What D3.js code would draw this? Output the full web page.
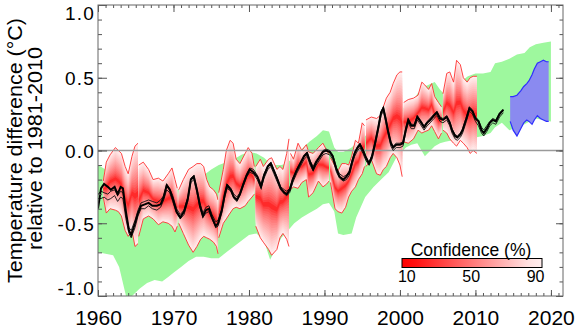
<!DOCTYPE html>
<html><head><meta charset="utf-8">
<script src="https://cdn.jsdelivr.net/npm/d3@7"></script>
<style>
body{margin:0;background:#fff}
svg{display:block}
text{font-family:"Liberation Sans",Arial,Helvetica,sans-serif;fill:#000}
</style>
</head><body>
<svg id="chart" width="575" height="330"></svg>
<script>
// ---------------- DATA ----------------
// Green band (uninitialised model spread): [year, lower, upper]
const greenBand = [
[1960.0,-0.70,-0.10],[1961.0,-0.71,-0.13],[1962.0,-0.72,-0.17],[1962.8,-0.80,-0.20],
[1963.8,-1.02,-0.22],[1964.5,-1.00,-0.24],[1965.5,-0.95,-0.26],[1966.5,-0.91,-0.27],
[1967.5,-0.89,-0.28],[1968.5,-0.90,-0.29],[1969.3,-0.87,-0.29],[1970.0,-0.84,-0.28],
[1971.0,-0.80,-0.26],[1972.0,-0.76,-0.24],[1973.0,-0.73,-0.21],[1974.0,-0.73,-0.17],
[1975.0,-0.74,-0.13],[1976.0,-0.74,-0.10],[1977.0,-0.70,-0.08],[1978.0,-0.66,-0.06],
[1979.0,-0.62,-0.03],[1980.0,-0.58,-0.01],[1981.0,-0.57,-0.02],[1982.0,-0.62,-0.05],
[1982.8,-0.75,-0.09],[1983.5,-0.68,-0.10],[1984.3,-0.60,-0.10],[1985.0,-0.56,-0.09],
[1986.0,-0.50,-0.04],[1987.0,-0.46,0.01],[1988.0,-0.43,0.06],[1989.0,-0.40,0.10],
[1989.8,-0.37,0.14],[1990.6,-0.36,0.13],[1991.3,-0.42,0.02],[1991.8,-0.57,-0.01],
[1992.5,-0.58,-0.01],[1993.6,-0.57,0.02],[1994.2,-0.46,0.05],[1995.4,-0.32,0.10],
[1996.5,-0.25,0.14],[1997.5,-0.20,0.19],[1998.5,-0.15,0.23],[1999.5,-0.05,0.27],
[2000.8,0.02,0.30],[2001.5,0.04,0.31],[2002.3,0.05,0.39],[2003.3,-0.04,0.44],
[2004.6,0.03,0.47],[2005.3,0.05,0.42],[2006.0,0.06,0.38],[2007.0,0.07,0.43],
[2008.0,0.08,0.47],[2009.0,0.09,0.51],[2010.0,0.09,0.53],[2011.0,0.10,0.53],
[2012.0,0.12,0.54],[2012.6,0.16,0.60],[2013.5,0.19,0.61],[2014.5,0.14,0.63],
[2015.5,0.16,0.66],[2016.5,0.18,0.67],[2017.2,0.20,0.71],[2018.0,0.22,0.73],
[2019.0,0.21,0.74],[2020.0,0.20,0.75]
];

// Hindcast segments (5-95% range): [year, lower, upper]
const hc1960 = [[1960.7,-0.32,-0.21],[1961.1,-0.43,-0.08],[1961.6,-0.40,-0.03],[1962.3,-0.41,0.02],[1962.7,-0.42,0.00],[1963.1,-0.45,-0.02],[1963.6,-0.55,-0.11],[1964.0,-0.59,-0.16],[1964.5,-0.55,-0.04],[1964.9,-0.66,0.03],[1965.3,-0.64,0.05]];
const hc1965 = [[1965.4,-0.59,-0.10],[1966.0,-0.47,-0.08],[1966.7,-0.45,-0.13],[1967.3,-0.47,-0.20],[1968.0,-0.51,-0.19],[1968.6,-0.49,-0.21],[1969.3,-0.50,-0.16],[1969.8,-0.52,-0.12],[1970.2,-0.56,-0.20],[1970.5,-0.52,-0.26]];
const hc1970 = [[1970.7,-0.50,-0.27],[1971.3,-0.57,-0.20],[1972.0,-0.65,-0.13],[1972.6,-0.70,-0.11],[1973.1,-0.66,-0.09],[1973.6,-0.61,-0.09],[1974.0,-0.59,-0.11],[1974.4,-0.60,-0.20],[1974.8,-0.61,-0.25],[1975.3,-0.63,-0.27],[1975.7,-0.66,-0.30],[1975.9,-0.71,-0.34]];
const hc1975 = [[1976.0,-0.60,-0.29],[1976.6,-0.50,-0.13],[1977.0,-0.47,0.00],[1977.5,-0.43,0.07],[1977.9,-0.40,0.05],[1978.3,-0.39,-0.06],[1978.8,-0.40,-0.09],[1979.5,-0.38,-0.02],[1979.9,-0.35,0.02],[1980.4,-0.32,-0.02],[1980.7,-0.30,-0.11]];
const hc1980 = [[1980.9,-0.52,-0.11],[1981.5,-0.60,-0.06],[1981.9,-0.63,-0.11],[1982.6,-0.68,-0.06],[1983.0,-0.72,-0.05],[1983.7,-0.68,-0.13],[1984.1,-0.60,-0.11],[1984.5,-0.57,-0.13],[1985.0,-0.61,-0.02],[1985.3,-0.66,0.08]];
const hc1985 = [[1985.5,-0.27,-0.02],[1985.9,-0.25,-0.06],[1986.5,-0.26,0.05],[1987.0,-0.22,0.00],[1987.6,-0.20,0.04],[1987.9,-0.32,-0.01],[1988.5,-0.29,-0.02],[1989.2,-0.21,0.02],[1989.8,-0.25,0.05],[1990.3,-0.23,0.00],[1990.6,-0.21,-0.03]];
const hc1990 = [[1990.8,-0.22,-0.05],[1991.4,-0.40,-0.11],[1991.8,-0.42,-0.14],[1992.3,-0.43,-0.09],[1992.8,-0.39,-0.09],[1993.2,-0.32,-0.10],[1993.6,-0.28,-0.04],[1994.1,-0.25,0.07],[1994.5,-0.20,0.05],[1995.0,-0.16,0.19],[1995.3,-0.11,0.17]];
const hc1995 = [[1995.5,-0.11,0.21],[1996.2,-0.06,0.23],[1996.9,-0.16,0.22],[1997.4,-0.17,0.24],[1997.8,-0.13,0.30],[1998.2,-0.11,0.36],[1998.7,-0.05,0.40],[1999.1,-0.02,0.46],[1999.6,-0.05,0.52],[2000.0,-0.10,0.54],[2000.3,-0.18,0.54]];
const hc2000 = [[2000.5,0.06,0.33],[2001.1,0.05,0.35],[2001.8,0.08,0.36],[2002.4,0.14,0.38],[2002.9,0.12,0.47],[2003.3,0.13,0.45],[2003.8,0.14,0.42],[2004.2,0.17,0.46],[2004.6,0.13,0.37],[2005.1,0.08,0.33],[2005.5,0.12,0.30]];
const hc2005 = [[2005.7,0.14,0.39],[2006.2,0.12,0.53],[2006.6,0.08,0.54],[2007.1,0.05,0.47],[2007.5,0.03,0.62],[2008.0,0.07,0.59],[2008.4,0.05,0.50],[2008.9,0.02,0.47],[2009.3,-0.02,0.50],[2009.7,0.00,0.51],[2010.2,-0.02,0.51]];

// Forecast band: [year, lower, upper]
const forecastBand = [[2014.6,0.20,0.37],[2015.0,0.14,0.37],[2015.5,0.10,0.38],[2016.0,0.15,0.41],[2016.4,0.19,0.44],[2016.8,0.21,0.46],[2017.1,0.20,0.48],[2017.5,0.18,0.52],[2017.8,0.21,0.56],[2018.2,0.24,0.60],[2018.6,0.22,0.61],[2019.0,0.21,0.62],[2019.4,0.20,0.61],[2019.7,0.20,0.61]];

// Observations
const obsYears = [1960.0,1960.4,1960.8,1961.3,1961.7,1962.2,1962.6,1963.0,1963.3,1963.7,1964.1,1964.4,1964.9,1965.3,1965.7,1966.2,1966.7,1967.2,1967.8,1968.3,1968.7,1969.1,1969.5,1969.9,1970.4,1970.9,1971.4,1971.9,1972.3,1972.7,1973.1,1973.5,1973.9,1974.3,1974.7,1975.1,1975.6,1975.9,1976.4,1976.8,1977.1,1977.6,1978.0,1978.4,1978.8,1979.2,1979.7,1980.1,1980.6,1981.1,1981.6,1982.0,1982.5,1982.9,1983.3,1983.7,1984.2,1984.7,1985.0,1985.4,1985.8,1986.3,1986.8,1987.3,1987.7,1988.1,1988.5,1988.9,1989.3,1989.8,1990.2,1990.7,1991.1,1991.6,1992.0,1992.5,1992.9,1993.3,1993.7,1994.0,1994.4,1994.7,1995.1,1995.5,1995.9,1996.3,1996.7,1997.1,1997.5,1997.8,1998.1,1998.4,1998.8,1999.1,1999.5,2000.0,2000.4,2000.8,2001.1,2001.5,2001.9,2002.3,2002.7,2003.2,2003.6,2004.0,2004.5,2004.9,2005.3,2005.7,2006.2,2006.6,2006.9,2007.3,2007.6,2008.0,2008.3,2008.8,2009.2,2009.6,2010.0,2010.4,2010.8,2011.1,2011.5,2011.9,2012.3,2012.7,2013.2,2013.7];
const obsMain = [-0.40,-0.26,-0.23,-0.25,-0.27,-0.25,-0.30,-0.25,-0.26,-0.42,-0.55,-0.58,-0.50,-0.43,-0.38,-0.37,-0.36,-0.38,-0.38,-0.37,-0.32,-0.24,-0.27,-0.33,-0.42,-0.46,-0.42,-0.33,-0.20,-0.18,-0.27,-0.38,-0.45,-0.41,-0.40,-0.46,-0.52,-0.50,-0.41,-0.30,-0.24,-0.27,-0.32,-0.34,-0.30,-0.24,-0.17,-0.13,-0.15,-0.18,-0.25,-0.17,-0.11,-0.09,-0.14,-0.19,-0.26,-0.29,-0.30,-0.27,-0.20,-0.14,-0.09,-0.04,-0.02,-0.08,-0.13,-0.08,-0.05,-0.01,0.00,-0.01,-0.04,-0.13,-0.18,-0.20,-0.18,-0.15,-0.07,-0.02,0.02,0.04,0.00,-0.05,-0.09,-0.04,0.05,0.15,0.26,0.29,0.22,0.14,0.05,0.02,0.04,0.04,0.05,0.15,0.21,0.17,0.17,0.23,0.20,0.16,0.19,0.21,0.24,0.26,0.22,0.21,0.23,0.19,0.14,0.10,0.09,0.11,0.14,0.22,0.29,0.27,0.22,0.20,0.14,0.12,0.15,0.19,0.21,0.20,0.25,0.28];
const obsB = [-0.30,-0.28,-0.29,-0.30,-0.28,-0.27,-0.31,-0.28,-0.29,-0.44,-0.53,-0.55,-0.48,-0.41,-0.36,-0.35,-0.34,-0.35,-0.36,-0.34,-0.31,-0.23,-0.26,-0.31,-0.40,-0.44,-0.41,-0.32,-0.19,-0.17,-0.26,-0.36,-0.43,-0.39,-0.38,-0.44,-0.49,-0.48,-0.40,-0.29,-0.23,-0.26,-0.30,-0.32,-0.29,-0.23,-0.16,-0.12,-0.13,-0.17,-0.23,-0.16,-0.10,-0.08,-0.13,-0.18,-0.25,-0.27,-0.28,-0.26,-0.19,-0.13,-0.08,-0.03,-0.01,-0.07,-0.11,-0.07,-0.04,0.00,0.01,0.00,-0.03,-0.12,-0.16,-0.18,-0.17,-0.14,-0.06,-0.01,0.03,0.05,0.01,-0.04,-0.08,-0.03,0.06,0.16,0.27,0.30,0.23,0.15,0.06,0.03,0.05,0.05,0.06,0.16,0.22,0.18,0.18,0.24,0.21,0.17,0.20,0.22,0.25,0.27,0.23,0.22,0.24,0.20,0.15,0.11,0.10,0.12,0.15,0.23,0.30,0.28,0.23,0.21,0.16,0.14,0.17,0.20,0.22,0.21,0.26,0.28];
const obsC = [-0.33,-0.33,-0.32,-0.34,-0.33,-0.31,-0.35,-0.32,-0.33,-0.47,-0.57,-0.60,-0.53,-0.45,-0.40,-0.40,-0.38,-0.40,-0.41,-0.39,-0.34,-0.27,-0.29,-0.35,-0.43,-0.47,-0.44,-0.35,-0.22,-0.20,-0.29,-0.39,-0.46,-0.43,-0.42,-0.47,-0.53,-0.52,-0.43,-0.32,-0.26,-0.28,-0.33,-0.35,-0.31,-0.25,-0.18,-0.15,-0.16,-0.20,-0.26,-0.19,-0.13,-0.11,-0.16,-0.21,-0.27,-0.30,-0.31,-0.29,-0.22,-0.16,-0.11,-0.06,-0.04,-0.10,-0.14,-0.10,-0.07,-0.03,-0.02,-0.03,-0.06,-0.15,-0.19,-0.21,-0.20,-0.17,-0.09,-0.04,0.00,0.02,-0.02,-0.07,-0.10,-0.06,0.03,0.13,0.24,0.27,0.20,0.12,0.03,0.00,0.02,0.02,0.03,0.13,0.19,0.15,0.15,0.21,0.18,0.14,0.17,0.19,0.22,0.24,0.20,0.19,0.21,0.17,0.12,0.08,0.07,0.09,0.12,0.20,0.27,0.25,0.20,0.17,0.12,0.10,0.13,0.17,0.19,0.18,0.23,0.26];

// Axis ticks and legend
const xMajorTicks = [1960,1970,1980,1990,2000,2010,2020];
const yMajorTicks = [-1.0,-0.5,0.0,0.5,1.0];
const confidenceTicks = [10,50,90];
const yTitle = ["Temperature difference (°C)","relative to 1981-2010"];
const legendTitle = "Confidence (%)";

// ---------------- DRAW ----------------
const svg = d3.select("#chart");
const L=98, R=563, T=5, B=296;
const x = d3.scaleLinear().domain([1960,2021.6]).range([L,R]);
const y = d3.scaleLinear().domain([-1,1]).range([B,T]);

svg.append("defs").append("clipPath").attr("id","clip")
  .append("rect").attr("x",L).attr("y",T).attr("width",R-L).attr("height",B-T);
const plot = svg.append("g").attr("clip-path","url(#clip)");

const band = (lo, hi) => d3.area().x(d=>x(d[0])).y0(lo).y1(hi);

// green band
plot.append("path")
  .attr("d", band(d=>y(d[1]), d=>y(d[2]))(greenBand))
  .attr("fill","#9ef89e");

// confidence colour scale (10% = red centre, 90% = pale edge)
const conf = d3.scaleLinear().domain([10,90]).range(["#ff0000","#ffeeee"]).interpolate(d3.interpolateRgb);

const segments = [hc1960,hc1965,hc1970,hc1975,hc1980,hc1985,hc1990,hc1995,hc2000,hc2005];
const N = 18;
segments.forEach(seg => {
  for (let i=0;i<N;i++){
    const f = 1 - i/N;                 // fraction of half-width
    const c = 10 + 80*Math.pow(f,0.6); // confidence level at this fraction
    const a = d3.area().x(d=>x(d[0]))
      .y0(d=>{const m=(d[1]+d[2])/2; return y(m - f*(m-d[1]));})
      .y1(d=>{const m=(d[1]+d[2])/2; return y(m + f*(d[2]-m));});
    plot.append("path").attr("d",a(seg)).attr("fill",conf(c));
  }
  const lu = d3.line().x(d=>x(d[0])).y(d=>y(d[2]));
  const ll = d3.line().x(d=>x(d[0])).y(d=>y(d[1]));
  plot.append("path").attr("d",lu(seg)).attr("fill","none").attr("stroke","#ff3030").attr("stroke-width",0.9);
  plot.append("path").attr("d",ll(seg)).attr("fill","none").attr("stroke","#ff3030").attr("stroke-width",0.9);
});

// forecast band
plot.append("path").attr("d", band(d=>y(d[1]), d=>y(d[2]))(forecastBand)).attr("fill","#8a8af0");
plot.append("path").attr("d", d3.line().x(d=>x(d[0])).y(d=>y(d[2]))(forecastBand)).attr("fill","none").attr("stroke","#2f2fff").attr("stroke-width",1.2);
plot.append("path").attr("d", d3.line().x(d=>x(d[0])).y(d=>y(d[1]))(forecastBand)).attr("fill","none").attr("stroke","#2f2fff").attr("stroke-width",1.2);

// zero line
plot.append("line").attr("x1",L).attr("x2",R).attr("y1",y(0)).attr("y2",y(0))
  .attr("stroke","#9a9a9a").attr("stroke-width",1.6);

// observations
const obsLine = vals => d3.line().x((d,i)=>x(obsYears[i])).y(d=>y(d))(vals);
plot.append("path").attr("d",obsLine(obsB)).attr("fill","none").attr("stroke","#111").attr("stroke-width",0.9);
plot.append("path").attr("d",obsLine(obsC)).attr("fill","none").attr("stroke","#111").attr("stroke-width",0.9);
plot.append("path").attr("d",obsLine(obsMain)).attr("fill","none").attr("stroke","#000").attr("stroke-width",2);

// axes
const axCol = "#555";
function styleAxis(g){ g.select(".domain").remove(); g.selectAll("line").attr("stroke",axCol); }
const xMinor = d3.range(1960,2022);
const yMinor = d3.range(-10,11).map(v=>v/10);

svg.append("g").attr("transform",`translate(0,${B})`)
  .call(d3.axisBottom(x).tickValues(xMinor).tickSize(-3).tickFormat("")).call(styleAxis);
svg.append("g").attr("transform",`translate(0,${B})`)
  .call(d3.axisBottom(x).tickValues(xMajorTicks).tickSize(-6).tickPadding(14).tickFormat(d3.format("d")))
  .call(styleAxis)
  .call(g=>g.selectAll("text").attr("font-size",21).attr("fill","#000"));
svg.append("g").attr("transform",`translate(0,${T})`)
  .call(d3.axisTop(x).tickValues(xMinor).tickSize(-3).tickFormat("")).call(styleAxis);
svg.append("g").attr("transform",`translate(0,${T})`)
  .call(d3.axisTop(x).tickValues(xMajorTicks).tickSize(-7).tickFormat("")).call(styleAxis);

svg.append("g").attr("transform",`translate(${L},0)`)
  .call(d3.axisLeft(y).tickValues(yMinor).tickSize(-4).tickFormat("")).call(styleAxis);
svg.append("g").attr("transform",`translate(${L},0)`)
  .call(d3.axisLeft(y).tickValues(yMajorTicks).tickSize(-9).tickPadding(3).tickFormat(d=>d.toFixed(1)))
  .call(styleAxis)
  .call(g=>g.selectAll("text").attr("font-size",19).attr("letter-spacing","1.2px").attr("fill","#000")
    .attr("dy","0.36em")
    .attr("y",d=> d===1 ? 7.5 : (d===-1 ? -8 : 0)));
svg.append("g").attr("transform",`translate(${R},0)`)
  .call(d3.axisRight(y).tickValues(yMinor).tickSize(-3.5).tickFormat("")).call(styleAxis);
svg.append("g").attr("transform",`translate(${R},0)`)
  .call(d3.axisRight(y).tickValues(yMajorTicks).tickSize(-7).tickFormat("")).call(styleAxis);

// frame
svg.append("rect").attr("x",L).attr("y",T).attr("width",R-L).attr("height",B-T)
  .attr("fill","none").attr("stroke","#666").attr("stroke-width",1);

// y title
svg.append("text").attr("transform","translate(22,150.5) rotate(-90)")
  .attr("text-anchor","middle").attr("font-size",20)
  .attr("textLength",265).attr("lengthAdjust","spacingAndGlyphs").text(yTitle[0]);
svg.append("text").attr("transform","translate(42,148.5) rotate(-90)")
  .attr("text-anchor","middle").attr("font-size",20)
  .attr("textLength",203).attr("lengthAdjust","spacingAndGlyphs").text(yTitle[1]);

// legend
const lx = d3.scaleLinear().domain([7,94]).range([402,542]);
const grad = svg.select("defs").append("linearGradient").attr("id","confGrad");
d3.range(0,11).forEach(k=>{
  const c = 7 + 87*k/10;
  grad.append("stop").attr("offset",(k*10)+"%").attr("stop-color",conf(Math.max(10,Math.min(90,c))));
});
svg.append("rect").attr("x",lx(7)).attr("y",258.5).attr("width",lx(94)-lx(7)).attr("height",9)
  .attr("fill","url(#confGrad)").attr("stroke","#000").attr("stroke-width",1);
svg.append("text").attr("x",471).attr("y",256).attr("text-anchor","middle")
  .attr("font-size",17.5).text(legendTitle);
svg.selectAll(".ctick").data(confidenceTicks).enter().append("text")
  .attr("x",d=>lx(d)).attr("y",282).attr("text-anchor","middle")
  .attr("font-size",16).text(d=>d);
</script>
</body></html>
